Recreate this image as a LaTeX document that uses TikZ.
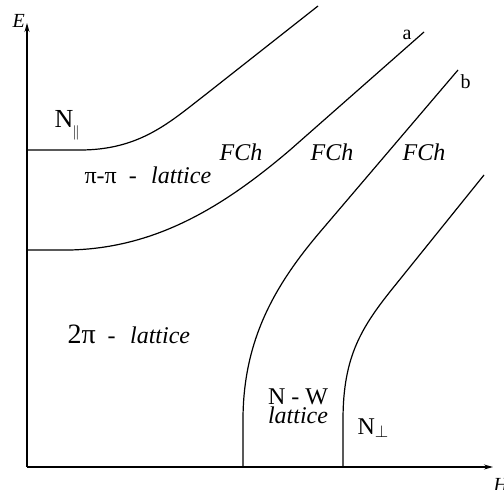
\documentclass[tikz,border=0pt]{standalone}
\usepackage{fontspec}
\setmainfont{Liberation Serif}
\usetikzlibrary{arrows.meta}
\begin{document}
\begin{tikzpicture}[x=1pt,y=-1pt, line width=1.2pt,
  lbl/.style={inner sep=0pt, anchor=base west, font=\fontsize{24}{28}\selectfont},
  sm/.style={inner sep=0pt, anchor=base west, font=\fontsize{20}{24}\selectfont},
  axis/.style={line width=1.2pt, -{Stealth[length=9pt,width=5pt]}},
  curve/.style={line width=1.2pt}]
\useasboundingbox (0,0) rectangle (504,490);
% axes
\coordinate (O) at (27,467);
\coordinate (Etop) at (27,23);
\coordinate (Hend) at (493,467);
\draw[axis] (O) -- (Etop);
\draw[axis] (O) -- (Hend);
\node[sm, font=\fontsize{20}{24}\selectfont\itshape] (E) at (12,27) {E};
\node[sm, font=\fontsize{20}{24}\selectfont\itshape] (H) at (493,491) {H};
% boundaries
\draw[curve] (27,150) -- (80,150) .. controls (140,150) and (170,122) .. (205,95) -- (318,6);
\draw[curve] (27,250) -- (70,250) .. controls (155,248) and (222,208) .. (290,150) -- (424,32);
\draw[curve] (243,467) -- (243,420) .. controls (243,340) and (275,285) .. (320,232) -- (458,70);
\draw[curve] (343,467) -- (343,420) .. controls (343,355) and (362,326) .. (397,283) -- (484,175);
% labels
\node[sm] (la) at (402,39) {a};
\node[sm] (lb) at (460,88) {b};
\node[lbl, font=\fontsize{26}{30}\selectfont] (npar) at (54,127) {N\hspace{-1pt}\raisebox{-9pt}{\fontsize{15}{15}\selectfont$\|$}};
\node[lbl] (pipi) at (84,183) {π-π\hspace{0.5em}-\hspace{0.6em}\textit{lattice}};
\node[lbl] (fch1) at (219,160) {\textit{FCh}};
\node[lbl] (fch2) at (310,160) {\textit{FCh}};
\node[lbl] (fch3) at (402,160) {\textit{FCh}};
\node[lbl] (twopi) at (67,343) {{\fontsize{28}{30}\selectfont 2π}\hspace{0.5em}-\hspace{0.6em}\textit{lattice}};
\node[inner sep=0pt, anchor=north, align=center, font=\fontsize{24}{20}\selectfont] (nw) at (298,388) {N - W\\[-1pt]\textit{lattice}};
\node[lbl] (nperp) at (357,434) {N$_{\perp}$};
\end{tikzpicture}
\end{document}
